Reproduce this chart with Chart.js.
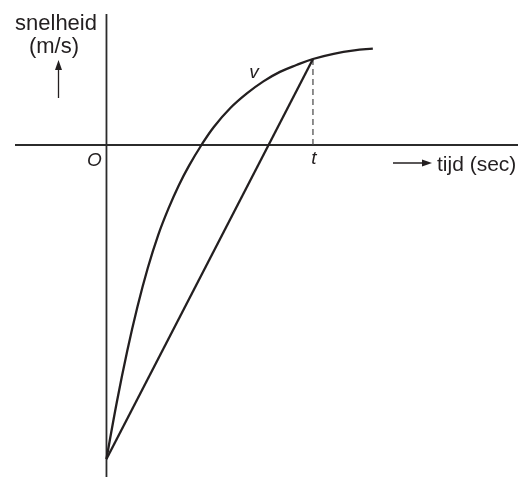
<!DOCTYPE html>
<html>
<head>
<meta charset="utf-8">
<script src="https://cdn.jsdelivr.net/npm/chart.js@4"></script>
<style>
  html, body { margin: 0; padding: 0; background: #fff; }
  #wrap { width: 522px; height: 477px; }
</style>
</head>
<body>
<div id="wrap"><canvas id="chartSnelheid" width="522" height="477"></canvas></div>
<script>
// snelheid v als functie van de tijd (t = 1, v(t) = 1)
var tijd     = [0, 0.05, 0.1, 0.15, 0.2, 0.25, 0.3, 0.35, 0.4, 0.46, 0.52, 0.6, 0.68, 0.76, 0.84, 0.92, 1, 1.1, 1.2, 1.29];
var snelheid = [-3.65, -2.99, -2.40, -1.88, -1.43, -1.05, -0.74, -0.47, -0.24, 0, 0.21, 0.43, 0.60, 0.74, 0.85, 0.93, 1, 1.06, 1.10, 1.12];

// koorde van (0, v0) naar (t, v(t))
var koordeX = [0, 1];
var koordeY = [-3.65, 1];

// stippellijn onder t
var streepX = [1, 1];
var streepY = [0, 1];

var xMin = -0.443, xMax = 1.993;
var yMin = -3.86, yMax = 1.523;

function punten(xs, ys) {
    return xs.map(function(x, i) { return { x: x, y: ys[i] }; });
}

var inkt = '#231f20';

var assenPlugin = {
    id: 'assen',
    beforeDatasetsDraw: function(chart) {
        var ctx = chart.ctx, a = chart.chartArea;
        var x0 = chart.scales.x.getPixelForValue(0);
        var y0 = chart.scales.y.getPixelForValue(0);
        ctx.save();
        ctx.strokeStyle = '#2b2b2b';
        ctx.lineWidth = 1.8;
        ctx.beginPath();
        ctx.moveTo(a.left, y0); ctx.lineTo(a.right, y0);
        ctx.moveTo(x0, a.top); ctx.lineTo(x0, a.bottom);
        ctx.stroke();
        ctx.restore();
    },
    afterDatasetsDraw: function(chart) {
        var ctx = chart.ctx;
        var sx = chart.scales.x, sy = chart.scales.y;
        var x0 = sx.getPixelForValue(0), y0 = sy.getPixelForValue(0);
        ctx.save();
        ctx.fillStyle = inkt;
        ctx.strokeStyle = inkt;
        ctx.textBaseline = 'alphabetic';

        // as-titels
        ctx.font = '22px "Liberation Sans", Arial, sans-serif';
        ctx.textAlign = 'center';
        ctx.fillText('snelheid', 56, 30);
        ctx.fillText('(m/s)', 54, 53);
        ctx.font = '21px "Liberation Sans", Arial, sans-serif';
        ctx.textAlign = 'left';
        ctx.fillText('tijd (sec)', 437, y0 + 26);

        // pijl omhoog
        ctx.lineWidth = 1.3;
        ctx.beginPath();
        ctx.moveTo(58.5, 98); ctx.lineTo(58.5, 66);
        ctx.stroke();
        ctx.beginPath();
        ctx.moveTo(58.5, 60); ctx.lineTo(55, 70); ctx.lineTo(62, 70);
        ctx.closePath(); ctx.fill();

        // pijl naar rechts
        ctx.beginPath();
        ctx.moveTo(393, y0 + 18); ctx.lineTo(426, y0 + 18);
        ctx.stroke();
        ctx.beginPath();
        ctx.moveTo(432, y0 + 18); ctx.lineTo(422, y0 + 14.5); ctx.lineTo(422, y0 + 21.5);
        ctx.closePath(); ctx.fill();

        // cursieve labels
        ctx.font = 'italic 19px "Liberation Sans", Arial, sans-serif';
        ctx.textAlign = 'center';
        ctx.fillText('O', x0 - 12, y0 + 21);
        ctx.fillText('t', sx.getPixelForValue(streepX[0]) + 1, y0 + 19);
        ctx.fillText('v', 254, 78);
        ctx.restore();
    }
};

var ctx = document.getElementById('chartSnelheid');
var myChart = new Chart(ctx, {
    type: 'scatter',
    data: {
        datasets: [{
            label: 'v',
            data: punten(tijd, snelheid),
            showLine: true,
            tension: 0.4,
            borderColor: inkt,
            borderWidth: 2.3,
            pointRadius: 0
        }, {
            label: 'koorde',
            data: punten(koordeX, koordeY),
            showLine: true,
            borderColor: inkt,
            borderWidth: 2.3,
            pointRadius: 0
        }, {
            label: 'streep',
            data: punten(streepX, streepY),
            showLine: true,
            borderColor: '#444',
            borderWidth: 1.2,
            borderDash: [6, 4],
            pointRadius: 0
        }]
    },
    options: {
        responsive: false,
        animation: false,
        layout: { padding: { left: 15, right: 4, top: 14, bottom: 0 } },
        plugins: {
            legend: { display: false },
            tooltip: { enabled: false }
        },
        scales: {
            x: { type: 'linear', display: false, min: xMin, max: xMax },
            y: { type: 'linear', display: false, min: yMin, max: yMax }
        }
    },
    plugins: [assenPlugin]
});
</script>
</body>
</html>
